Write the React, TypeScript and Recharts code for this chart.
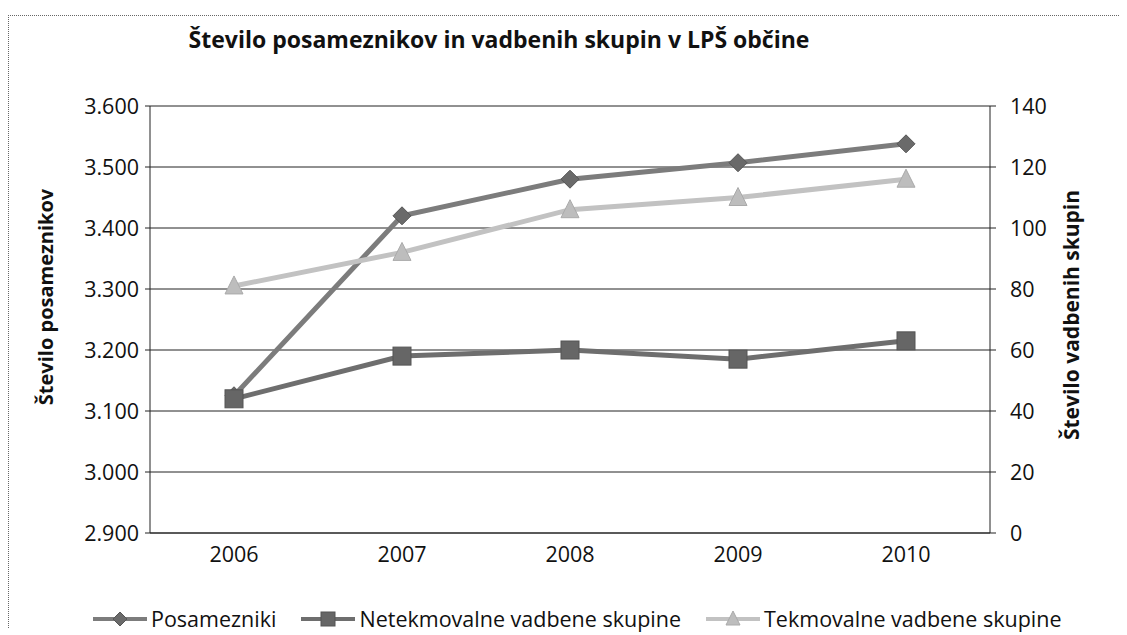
import { CartesianGrid, Line, LineChart, XAxis, YAxis } from 'recharts';

const years = ['2006', '2007', '2008', '2009', '2010'];
const posamezniki = [3125, 3420, 3480, 3507, 3538];
const netekmovalne = [44, 58, 60, 57, 63];
const tekmovalne = [81, 92, 106, 110, 116];
const leftTicks = [2900, 3000, 3100, 3200, 3300, 3400, 3500, 3600];
const rightTicks = [0, 20, 40, 60, 80, 100, 120, 140];

const data = years.map((year, i) => ({
  year,
  posamezniki: posamezniki[i],
  netekmovalne: netekmovalne[i],
  tekmovalne: tekmovalne[i],
}));

type Shape = 'diamond' | 'square' | 'triangle';

const series: { key: string; name: string; axis: string; color: string; marker: string; shape: Shape }[] = [
  { key: 'posamezniki', name: 'Posamezniki', axis: 'left', color: '#7c7c7c', marker: '#6a6a6a', shape: 'diamond' },
  { key: 'netekmovalne', name: 'Netekmovalne vadbene skupine', axis: 'right', color: '#6e6e6e', marker: '#666', shape: 'square' },
  { key: 'tekmovalne', name: 'Tekmovalne vadbene skupine', axis: 'right', color: '#c2c2c2', marker: '#bdbdbd', shape: 'triangle' },
];

const FONT = '"Open Sans", sans-serif';
const TICK = { fill: '#111', fontSize: 21.5, fontFamily: FONT };

function Marker({ cx, cy, shape, fill, size = 9 }: { cx: number; cy: number; shape: Shape; fill: string; size?: number }) {
  if (cx == null || cy == null) return null;
  const s = size;
  if (shape === 'diamond') {
    return <path d={`M${cx},${cy - s}L${cx + s},${cy}L${cx},${cy + s}L${cx - s},${cy}Z`} fill={fill} stroke="#555" strokeWidth={1} />;
  }
  if (shape === 'square') {
    return <rect x={cx - s} y={cy - s} width={s * 2} height={s * 2} fill={fill} stroke="#555" strokeWidth={1} />;
  }
  return <path d={`M${cx},${cy - s - 1}L${cx + s},${cy + s - 1}L${cx - s},${cy + s - 1}Z`} fill={fill} stroke="#aaa" strokeWidth={1} />;
}

const fmtThousands = (v: number) => v.toString().replace(/\B(?=(\d{3})+(?!\d))/g, '.');

export default function App() {
  return (
    <div style={{ position: 'relative', width: 1119, height: 627, fontFamily: FONT, color: '#111' }}>
      <div
        style={{
          position: 'absolute',
          top: 7,
          left: 0,
          width: 1119,
          height: 613,
          borderTop: '1px dotted #666',
          borderLeft: '1px dotted #666',
          boxSizing: 'border-box',
        }}
      />
      <div
        style={{
          position: 'absolute',
          top: 16,
          left: 0,
          width: 982,
          textAlign: 'center',
          fontSize: 23,
          fontWeight: 700,
          lineHeight: '30px',
        }}
      >
        Število posameznikov in vadbenih skupin v LPŠ občine
      </div>
      <div
        style={{
          position: 'absolute',
          left: 37,
          top: 289,
          transform: 'translate(-50%, -50%) rotate(-90deg)',
          whiteSpace: 'nowrap',
          fontSize: 20,
          fontWeight: 700,
        }}
      >
        Število posameznikov
      </div>
      <div
        style={{
          position: 'absolute',
          left: 1063,
          top: 307,
          transform: 'translate(-50%, -50%) rotate(-90deg)',
          whiteSpace: 'nowrap',
          fontSize: 21,
          fontWeight: 700,
        }}
      >
        Število vadbenih skupin
      </div>
      <div style={{ position: 'absolute', top: 0, left: 0 }}>
        <LineChart width={1119} height={627} data={data} margin={{ top: 98, right: 57, left: 62, bottom: 62 }}>
          <CartesianGrid yAxisId="left" vertical={false} stroke="#222" strokeWidth={1} />
          <XAxis
            dataKey="year"
            padding={{ left: 84, right: 84 }}
            tickLine={false}
            tickSize={0}
            tickMargin={14}
            height={40}
            axisLine={{ stroke: '#222' }}
            tick={TICK}
          />
          <YAxis
            yAxisId="left"
            orientation="left"
            width={80}
            domain={[2900, 3600]}
            ticks={leftTicks}
            tickFormatter={fmtThousands}
            tickSize={5}
            tickMargin={6}
            axisLine={{ stroke: '#222' }}
            tickLine={{ stroke: '#222' }}
            tick={TICK}
          />
          <YAxis
            yAxisId="right"
            orientation="right"
            width={80}
            domain={[0, 140]}
            ticks={rightTicks}
            tickSize={6}
            tickMargin={14}
            axisLine={{ stroke: '#222' }}
            tickLine={{ stroke: '#222' }}
            tick={TICK}
          />
          {series.map((s) => (
            <Line
              key={s.key}
              yAxisId={s.axis}
              type="linear"
              dataKey={s.key}
              name={s.name}
              stroke={s.color}
              strokeWidth={5}
              isAnimationActive={false}
              dot={(p: any) => <Marker key={`${s.key}-${p.index}`} cx={p.cx} cy={p.cy} shape={s.shape} fill={s.marker} />}
              activeDot={false}
            />
          ))}
        </LineChart>
      </div>
      <div
        style={{
          position: 'absolute',
          top: 597,
          left: 85,
          display: 'flex',
          alignItems: 'center',
          gap: 25,
          fontSize: 21.5,
          lineHeight: '28px',
          whiteSpace: 'nowrap',
        }}
      >
        {series.map((s) => (
          <div key={s.key} style={{ display: 'flex', alignItems: 'center', gap: 4 }}>
            <svg width={54} height={20}>
              <line x1={0} y1={10} x2={54} y2={10} stroke={s.color} strokeWidth={4} />
              <Marker cx={27} cy={10} shape={s.shape} fill={s.marker} size={7} />
            </svg>
            <span>{s.name}</span>
          </div>
        ))}
      </div>
    </div>
  );
}
